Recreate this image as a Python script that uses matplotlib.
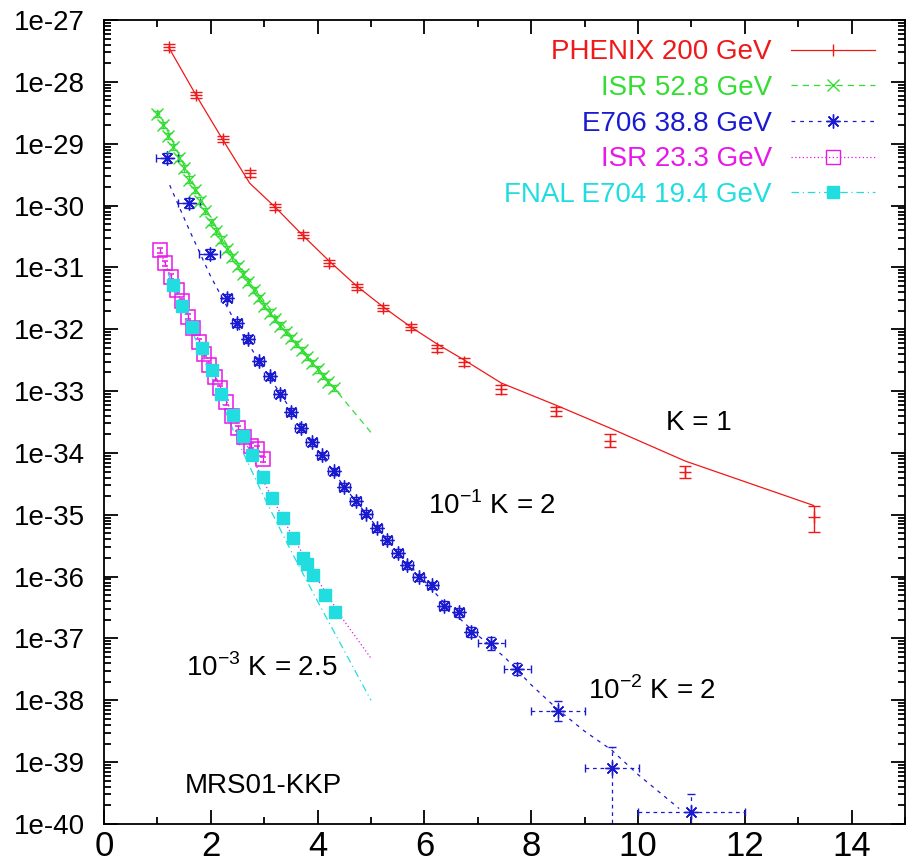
import numpy as np
import matplotlib
matplotlib.use("Agg")
import matplotlib.pyplot as plt
from matplotlib.lines import Line2D
from matplotlib.ticker import LogLocator, FuncFormatter, MultipleLocator, NullFormatter

plt.rcParams['font.family'] = ['Liberation Sans', 'DejaVu Sans']
plt.rcParams['mathtext.fontset'] = 'custom'
plt.rcParams['mathtext.rm'] = 'Liberation Sans'

# ---- data (log10 of the cross section) ----
phenix_x = [1.21, 1.72, 2.22, 2.73, 3.21, 3.72, 4.22, 4.73, 5.23, 5.74, 6.24, 6.75, 7.44, 8.47, 9.48, 10.88, 13.29]
phenix_ly = [-27.44, -28.21, -28.93, -29.48, -30.03, -30.48, -30.93, -31.32, -31.66, -31.97, -32.31, -32.53,
             -32.97, -33.33, -33.80, -34.31, -35.04]
phenix_elo = [0.05, 0.05, 0.05, 0.06, 0.05, 0.05, 0.05, 0.05, 0.05, 0.05, 0.06, 0.06, 0.07, 0.07, 0.1, 0.1, 0.24]
phenix_ehi = [0.05, 0.05, 0.05, 0.06, 0.05, 0.05, 0.05, 0.05, 0.05, 0.05, 0.06, 0.06, 0.07, 0.07, 0.1, 0.1, 0.18]
phenix_th_x = [1.21, 1.72, 2.22, 2.73, 3.21, 3.72, 4.22, 4.73, 5.23, 5.74, 6.24, 6.75, 7.44, 8.47, 9.48, 10.88, 13.29]
phenix_th_ly = [-27.44, -28.21, -28.93, -29.64, -30.03, -30.48, -30.90, -31.30, -31.64, -31.96, -32.24, -32.50,
                -32.87, -33.23, -33.60, -34.13, -34.85]

isr53_x = [1.0, 1.1, 1.2, 1.3, 1.4, 1.5, 1.6, 1.7, 1.8, 1.9, 2.0, 2.1, 2.2, 2.3, 2.4, 2.5, 2.6,
           2.7, 2.8, 2.9, 3.0, 3.1, 3.2, 3.3, 3.4, 3.5, 3.6, 3.7, 3.8, 3.9, 4.0, 4.1, 4.2, 4.3]
isr53_ly = [-28.52, -28.70, -28.88, -29.05, -29.23, -29.40, -29.58, -29.75, -29.92, -30.09, -30.26, -30.41,
            -30.55, -30.70, -30.84, -30.98, -31.11, -31.24, -31.37, -31.50, -31.62, -31.73, -31.83, -31.94,
            -32.04, -32.14, -32.24, -32.34, -32.45, -32.55, -32.65, -32.75, -32.85, -32.95]
isr53_th_x = [1.0, 1.5, 2.0, 2.5, 3.0, 3.5, 4.0, 4.5, 5.0]
isr53_th_ly = [-28.45, -29.35, -30.20, -30.92, -31.55, -32.10, -32.62, -33.15, -33.67]

e706_x = [1.18, 1.59, 1.98, 2.30, 2.49, 2.70, 2.90, 3.10, 3.29, 3.50, 3.68, 3.89, 4.09, 4.30, 4.50, 4.71,
          4.91, 5.11, 5.30, 5.50, 5.68, 5.89, 6.15, 6.37, 6.65, 6.88, 7.25, 7.74, 8.50, 9.51, 11.0]
e706_ly = [-29.23, -29.96, -30.79, -31.49, -31.90, -32.16, -32.52, -32.76, -33.04, -33.34, -33.60, -33.83,
           -34.04, -34.30, -34.55, -34.78, -34.98, -35.22, -35.41, -35.62, -35.82, -36.01, -36.14, -36.47,
           -36.58, -36.90, -37.08, -37.49, -38.17, -39.10, -39.81]
e706_xerr = [0.2, 0.2, 0.2, 0.1, 0.1, 0.1, 0.1, 0.1, 0.1, 0.1, 0.1, 0.1, 0.1, 0.1, 0.1, 0.1,
             0.1, 0.1, 0.1, 0.1, 0.1, 0.1, 0.1, 0.1, 0.1, 0.1, 0.25, 0.25, 0.5, 0.5, 1.0]
e706_elo = [0.08, 0.08, 0.08, 0.06, 0.06, 0.06, 0.06, 0.06, 0.06, 0.06, 0.06, 0.06, 0.06, 0.06, 0.06, 0.06,
            0.06, 0.06, 0.06, 0.06, 0.06, 0.06, 0.06, 0.07, 0.07, 0.08, 0.1, 0.1, 0.16, 3.0, 3.0]
e706_ehi = [0.08, 0.08, 0.08, 0.06, 0.06, 0.06, 0.06, 0.06, 0.06, 0.06, 0.06, 0.06, 0.06, 0.06, 0.06, 0.06,
            0.06, 0.06, 0.06, 0.06, 0.06, 0.06, 0.06, 0.07, 0.07, 0.08, 0.1, 0.1, 0.16, 0.35, 0.3]
e706_th_x = [1.23, 1.6, 2.0, 2.5, 3.0, 3.5, 4.0, 4.5, 5.0, 5.5, 6.0, 6.5, 7.0, 7.5, 8.0, 8.5, 9.0, 9.5, 10.0, 10.77]
e706_th_ly = [-29.67, -30.40, -31.15, -31.95, -32.65, -33.30, -33.95, -34.55, -35.08, -35.62, -36.07, -36.55,
              -36.95, -37.30, -37.75, -38.15, -38.50, -38.80, -39.20, -39.75]

isr23_x = [1.05, 1.15, 1.26, 1.37, 1.47, 1.57, 1.67, 1.77, 1.87, 1.97, 2.08, 2.18, 2.29, 2.40, 2.51,
           2.62, 2.75, 2.86, 2.97]
isr23_ly = [-30.72, -30.93, -31.15, -31.36, -31.55, -31.80, -31.98, -32.20, -32.40, -32.58, -32.78, -32.95,
            -33.18, -33.40, -33.60, -33.75, -33.88, -33.93, -34.10]
isr23_th_x = [1.1, 1.5, 2.0, 2.5, 3.0, 3.5, 4.0, 4.5, 5.0]
isr23_th_ly = [-30.85, -31.65, -32.60, -33.55, -34.48, -35.30, -36.05, -36.72, -37.32]

e704_x = [1.29, 1.46, 1.64, 1.83, 2.02, 2.20, 2.41, 2.60, 2.77, 2.98, 3.14, 3.35, 3.53, 3.72, 3.80, 3.91,
          4.13, 4.32]
e704_ly = [-31.29, -31.62, -31.97, -32.31, -32.66, -33.04, -33.39, -33.72, -34.04, -34.39, -34.73, -35.06,
           -35.38, -35.70, -35.80, -35.98, -36.30, -36.58]
e704_th_x = [1.2, 1.5, 2.0, 2.5, 3.0, 3.5, 4.0, 4.5, 5.0]
e704_th_ly = [-31.10, -31.72, -32.75, -33.80, -34.72, -35.58, -36.40, -37.20, -38.00]

labels = ["PHENIX 200 GeV", "ISR 52.8 GeV", "E706 38.8 GeV", "ISR 23.3 GeV", "FNAL E704 19.4 GeV"]
colors = ["#f01818", "#33dd33", "#1a1ad0", "#e818e8", "#22dde0"]

notes = [("K = 1", 11.14, -33.52), (r"10$^{\mathregular{-1}}$ K = 2", 7.26, -34.85),
         (r"10$^{\mathregular{-2}}$ K = 2", 10.26, -37.84), (r"10$^{\mathregular{-3}}$ K = 2.5", 2.96, -37.47),
         ("MRS01-KKP", 2.98, -39.38)]


def yerrs(ly, lo, hi):
    ly = np.array(ly)
    y = 10.0 ** ly
    return y, [y - 10.0 ** (ly - np.array(lo)), 10.0 ** (ly + np.array(hi)) - y]


fig = plt.figure(figsize=(9.09, 8.67), dpi=100)
ax = fig.add_axes([104 / 909, 43 / 867, 801 / 909, 804 / 867])

# PHENIX
ax.plot(phenix_th_x, 10.0 ** np.array(phenix_th_ly), color=colors[0], lw=0.9)
y, e = yerrs(phenix_ly, phenix_elo, phenix_ehi)
ax.errorbar(phenix_x, y, yerr=e, fmt='+', color=colors[0], ms=9, mew=1.0, elinewidth=1.0, capsize=4)

# ISR 52.8
ax.plot(isr53_th_x, 10.0 ** np.array(isr53_th_ly), color=colors[1], lw=0.9, ls=(0, (5, 4)))
y, e = yerrs(isr53_ly, [0.05] * len(isr53_ly), [0.05] * len(isr53_ly))
ax.errorbar(isr53_x, y, yerr=e, fmt='x', color=colors[1], ms=8, mew=1.0, elinewidth=0.9, capsize=3)

# E706
ax.plot(e706_th_x, 10.0 ** np.array(e706_th_ly), color=colors[2], lw=0.9, ls=(0, (3, 4)))
y, e = yerrs(e706_ly, e706_elo, e706_ehi)
eb = ax.errorbar(e706_x, y, xerr=e706_xerr, yerr=e, fmt='none', ecolor=colors[2], elinewidth=0.9, capsize=3)
for c in eb[2]:
    c.set_linestyle((0, (3, 3)))
ax.plot(e706_x, y, ls='none', marker=(8, 2, 0), color=colors[2], ms=10, mew=1.0)

# ISR 23.3
ax.plot(isr23_th_x, 10.0 ** np.array(isr23_th_ly), color=colors[3], lw=0.9, ls=(0, (1, 2)))
y, e = yerrs(isr23_ly, [0.04] * len(isr23_ly), [0.04] * len(isr23_ly))
ax.errorbar(isr23_x, y, yerr=e, fmt='s', color=colors[3], mfc='none', ms=10, mew=1.1, elinewidth=0.9, capsize=2)

# FNAL E704
ax.plot(e704_th_x, 10.0 ** np.array(e704_th_ly), color=colors[4], lw=0.9, ls=(0, (6, 3, 1, 3)))
y, e = yerrs(e704_ly, [0.05] * len(e704_ly), [0.05] * len(e704_ly))
ax.errorbar(e704_x, y, yerr=e, fmt='s', color=colors[4], ms=9, elinewidth=0.9, capsize=3)

for txt, x, ly in notes:
    ax.text(x, 10.0 ** ly, txt, fontsize=20, ha='center', va='center')

ax.set_xlim(0, 15)
ax.set_yscale('log')
ax.set_ylim(1e-40, 1e-27)
ax.xaxis.set_major_locator(MultipleLocator(2))
ax.xaxis.set_minor_locator(MultipleLocator(1))
ax.yaxis.set_major_locator(LogLocator(base=10, numticks=30))
ax.yaxis.set_minor_locator(LogLocator(base=10, subs=np.arange(2, 10), numticks=30))
ax.yaxis.set_minor_formatter(NullFormatter())
ax.yaxis.set_major_formatter(FuncFormatter(lambda v, p: "1e%d" % int(round(np.log10(v)))))
ax.tick_params(which='both', direction='in', top=True, right=True, width=1.3)
ax.tick_params(which='major', length=10)
ax.tick_params(which='minor', length=5)
ax.tick_params(axis='y', pad=14, labelsize=20)
ax.tick_params(axis='x', pad=4, labelsize=25)
for s in ax.spines.values():
    s.set_linewidth(1.3)

handles = [
    Line2D([], [], color=colors[0], lw=0.9, marker='|', ms=8),
    Line2D([], [], color=colors[1], lw=0.9, ls=(0, (5, 4)), marker='x', ms=8),
    Line2D([], [], color=colors[2], lw=0.9, ls=(0, (3, 4)), marker=(8, 2, 0), ms=10),
    Line2D([], [], color=colors[3], lw=0.9, ls=(0, (1, 2)), marker='s', mfc='none', ms=10),
    Line2D([], [], color=colors[4], lw=0.9, ls=(0, (6, 3, 1, 3)), marker='s', ms=9),
]
leg = ax.legend(handles, labels, loc='upper right', bbox_to_anchor=(0.962, 0.976), markerfirst=False,
                frameon=False, handlelength=3.0, handletextpad=0.7, labelspacing=0.35,
                borderaxespad=0, borderpad=0, fontsize=20)
for t, c in zip(leg.get_texts(), colors):
    t.set_color(c)

fig.savefig("out.png", dpi=100)
